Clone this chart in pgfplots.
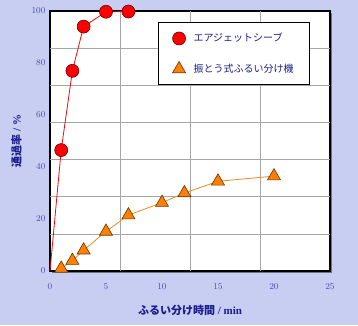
\documentclass[border=0pt]{standalone}
\usepackage{fontspec}
\setmainfont{Liberation Serif}
\newfontfamily\cjk{Noto Sans CJK JP}
\usepackage{pgfplots}
\pgfplotsset{compat=1.18}
\definecolor{bg}{HTML}{C7CEF2}
\definecolor{tickc}{HTML}{4A4AB0}
\definecolor{labc}{HTML}{1C1C8C}
\definecolor{redm}{HTML}{FF0000}
\definecolor{redl}{HTML}{E01010}
\definecolor{orm}{HTML}{FF8000}
\definecolor{orl}{HTML}{F08A20}
\begin{document}
\begin{tikzpicture}[x=1pt,y=1pt]
\fill[bg] (-50,-54) rectangle (308,271);
\useasboundingbox (-50,-54) rectangle (308,271);
\fill[black!45!bg] (2,-2) rectangle (282,258);
\begin{axis}[
  at={(0,0)}, anchor=origin,
  scale only axis, width=280pt, height=260pt,
  xmin=0, xmax=25, ymin=0, ymax=100,
  axis background/.style={fill=white},
  axis line style={black, line width=1.3pt},
  xtick={0,5,...,25}, ytick={0,20,...,100},
  major tick length=0pt,
  extra x ticks={6.25,12.5,18.75}, extra x tick labels={},
  extra x tick style={grid=major, major tick length=0pt},
  extra y ticks={14.2857,28.5714,42.8571,57.1429,71.4286,85.7143}, extra y tick labels={},
  extra y tick style={grid=major, major tick length=0pt},
  grid style={gray!70, line width=0.5pt},
  tick label style={font=\fontsize{9}{10}\selectfont, text=tickc},
  xticklabel style={yshift=-9pt},
  yticklabel style={xshift=-1pt},
  xlabel={{\cjk\bfseries ふるい分け時間} \textbf{/ min}},
  ylabel={{\cjk\bfseries 通過率} \textbf{/ \%}},
  label style={font=\fontsize{11}{12}\selectfont, text=labc},
  xlabel style={at={(axis description cs:0.5,-0.15)}, anchor=center},
  ylabel style={at={(axis description cs:-0.12,0.5)}, anchor=center},
  legend style={at={(0.386,0.958)}, anchor=north west, draw=black, line width=1pt,
    fill=white, inner xsep=14pt, inner ysep=9pt, row sep=16pt,
    font=\cjk\fontsize{10}{11}\selectfont, text=labc,
    /tikz/every odd column/.append style={column sep=6pt}},
  legend cell align=left,
  clip=false,
]
\addplot[redl, line width=0.8pt, mark=*, mark size=6.5pt, mark indices={2,3,4,5,6},
  mark options={fill=redm, draw=black!60!red, line width=0.6pt}, forget plot]
  coordinates {(0,0) (1,46.5) (2,77) (3,94) (5,99.7) (7,99.8)};
\addplot[orl, line width=0.8pt, mark=triangle*, mark size=7.5pt,
  mark options={fill=orm, draw=black!60!orange, line width=0.6pt}, forget plot]
  coordinates {(1,1) (2,4) (3,8) (5,15.2) (7,21.5) (10,26.3) (12,30) (15,34.5) (20,36.5)};
\addlegendimage{only marks, mark=*, mark size=6.5pt, mark options={fill=redm, draw=black!60!red, line width=0.6pt}}
\addlegendentry{エアジェットシーブ}
\addlegendimage{only marks, mark=triangle*, mark size=7.5pt, mark options={fill=orm, draw=black!60!orange, line width=0.6pt}}
\addlegendentry{振とう式ふるい分け機}
\end{axis}
\end{tikzpicture}
\end{document}
